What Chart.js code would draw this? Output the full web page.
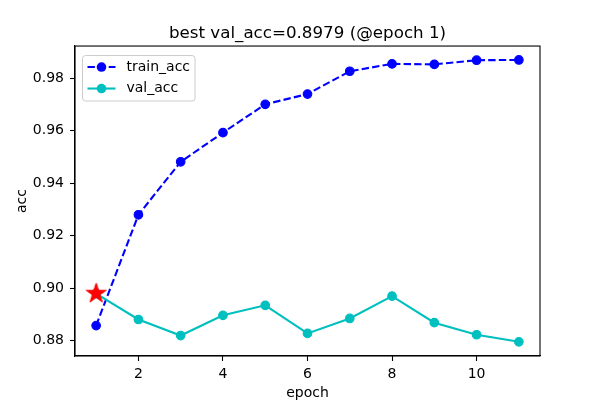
<!DOCTYPE html>
<html>
<head>
<meta charset="utf-8">
<script src="https://cdn.jsdelivr.net/npm/chart.js@4/dist/chart.umd.min.js"></script>
<style>
  html, body { margin: 0; padding: 0; background: #fff; }
  #chart { display: block; }
</style>
</head>
<body>
<canvas id="chart" width="600" height="400"></canvas>
<script>
// values
const epochs = [1, 2, 3, 4, 5, 6, 7, 8, 9, 10, 11];
const trainAcc = [0.8857, 0.9279, 0.9481, 0.9592, 0.9700, 0.9739, 0.9826, 0.9854, 0.9852, 0.9868, 0.9869];
const valAcc = [0.8979, 0.8880, 0.8819, 0.8896, 0.8934, 0.8827, 0.8884, 0.8969, 0.8868, 0.8822, 0.8795];
const bestEpoch = 1;
const bestVal = 0.8979;
const xTicks = [2, 4, 6, 8, 10];
const yTicks = [0.88, 0.90, 0.92, 0.94, 0.96, 0.98];

const FONT = "'DejaVu Sans', Verdana, sans-serif";
const BLUE = "#0000ff";
const CYAN = "#00bfbf";
const RED = "#ff0000";

// filled 5-point star, matplotlib "*" marker look
function makeStar(r, color) {
  const size = Math.ceil(r * 2 + 4);
  const c = document.createElement("canvas");
  c.width = size;
  c.height = size;
  const ctx = c.getContext("2d");
  const cx = size / 2, cy = size / 2;
  const inner = r * 0.381966;
  ctx.beginPath();
  for (let i = 0; i < 10; i++) {
    const rad = i % 2 === 0 ? r : inner;
    const a = -Math.PI / 2 + (i * Math.PI) / 5;
    const px = cx + rad * Math.cos(a);
    const py = cy + rad * Math.sin(a);
    if (i === 0) ctx.moveTo(px, py); else ctx.lineTo(px, py);
  }
  ctx.closePath();
  ctx.fillStyle = color;
  ctx.fill();
  ctx.strokeStyle = color;
  ctx.lineWidth = 1;
  ctx.stroke();
  return c;
}

const toPoints = (ys) => epochs.map((e, i) => ({ x: e, y: ys[i] }));

// box around the axes (matplotlib spines)
const frame = {
  id: "frame",
  afterDatasetsDraw(chart) {
    const { ctx, chartArea: a } = chart;
    ctx.save();
    ctx.strokeStyle = "#000";
    ctx.lineWidth = 1.1;
    ctx.strokeRect(a.left, a.top, a.right - a.left, a.bottom - a.top);
    ctx.restore();
  },
};

// legend box in upper left
const mplLegend = {
  id: "mplLegend",
  afterDraw(chart) {
    const { ctx, chartArea: a } = chart;
    const x0 = a.left + 7.5, y0 = a.top + 9.5, w = 112.5, h = 45.5;
    ctx.save();
    ctx.beginPath();
    ctx.roundRect(x0, y0, w, h, 3);
    ctx.fillStyle = "rgba(255,255,255,0.8)";
    ctx.fill();
    ctx.strokeStyle = "#cccccc";
    ctx.lineWidth = 1;
    ctx.stroke();

    const rows = [
      { label: "train_acc", color: BLUE, dash: [7.4, 3.2], y: y0 + 11.5 },
      { label: "val_acc", color: CYAN, dash: [], y: y0 + 33 },
    ];
    rows.forEach((r) => {
      ctx.beginPath();
      ctx.setLineDash(r.dash);
      ctx.strokeStyle = r.color;
      ctx.lineWidth = 2.1;
      ctx.moveTo(x0 + 5, r.y);
      ctx.lineTo(x0 + 33, r.y);
      ctx.stroke();
      ctx.setLineDash([]);
      ctx.beginPath();
      ctx.arc(x0 + 19, r.y, 4.8, 0, Math.PI * 2);
      ctx.fillStyle = r.color;
      ctx.fill();
      ctx.fillStyle = "#000";
      ctx.font = "14px " + FONT;
      ctx.textBaseline = "middle";
      ctx.textAlign = "left";
      ctx.fillText(r.label, x0 + 44, r.y);
    });
    ctx.restore();
  },
};

new Chart(document.getElementById("chart"), {
  type: "line",
  data: {
    datasets: [
      {
        label: "best",
        data: [{ x: bestEpoch, y: bestVal }],
        pointStyle: makeStar(10.5, RED),
        pointRadius: 10,
        showLine: false,
        order: 0,
      },
      {
        label: "val_acc",
        data: toPoints(valAcc),
        borderColor: CYAN,
        backgroundColor: CYAN,
        borderWidth: 2.1,
        pointRadius: 4.3,
        pointBorderWidth: 1.1,
        pointBackgroundColor: CYAN,
        pointBorderColor: CYAN,
        tension: 0,
        order: 1,
      },
      {
        label: "train_acc",
        data: toPoints(trainAcc),
        borderColor: BLUE,
        backgroundColor: BLUE,
        borderWidth: 2.1,
        borderDash: [7.4, 3.2],
        pointRadius: 4.3,
        pointBorderWidth: 1.1,
        pointBackgroundColor: BLUE,
        pointBorderColor: BLUE,
        tension: 0,
        order: 2,
      },
    ],
  },
  options: {
    responsive: false,
    animation: false,
    events: [],
    layout: { padding: { left: 0, right: 60, top: 0, bottom: 0 } },
    plugins: {
      legend: { display: false },
      tooltip: { enabled: false },
      title: {
        display: true,
        fullSize: false,
        text: "best val_acc=0.8979 (@epoch 1)",
        color: "#000",
        font: { family: FONT, size: 16.7, weight: "normal", lineHeight: 1.2 },
        padding: { top: 24, bottom: 2 },
      },
    },
    scales: {
      x: {
        type: "linear",
        min: 0.5,
        max: 11.5,
        afterBuildTicks: (s) => { s.ticks = xTicks.map((v) => ({ value: v })); },
        afterFit: (s) => { s.height = 44; },
        grid: { display: true, drawOnChartArea: false, drawTicks: true, tickLength: 5, tickColor: "#000", tickWidth: 1.1 },
        border: { display: true, color: "#000", width: 1.1 },
        ticks: { color: "#000", font: { family: FONT, size: 14 }, padding: 5, maxRotation: 0, callback: (v) => String(v) },
        title: { display: true, text: "epoch", color: "#000", font: { family: FONT, size: 14 }, padding: { top: 0, bottom: -2 } },
      },
      y: {
        type: "linear",
        min: 0.8741,
        max: 0.9922,
        afterBuildTicks: (s) => { s.ticks = yTicks.map((v) => ({ value: v })); },
        afterFit: (s) => { s.width = 75; },
        grid: { display: true, drawOnChartArea: false, drawTicks: true, tickLength: 5, tickColor: "#000", tickWidth: 1.1 },
        border: { display: true, color: "#000", width: 1.1 },
        ticks: { color: "#000", font: { family: FONT, size: 14 }, padding: 6, callback: (v) => v.toFixed(2) },
        title: { display: true, text: "acc", color: "#000", font: { family: FONT, size: 14 }, padding: { top: 14, bottom: 0 } },
      },
    },
  },
  plugins: [frame, mplLegend],
});
</script>
</body>
</html>
